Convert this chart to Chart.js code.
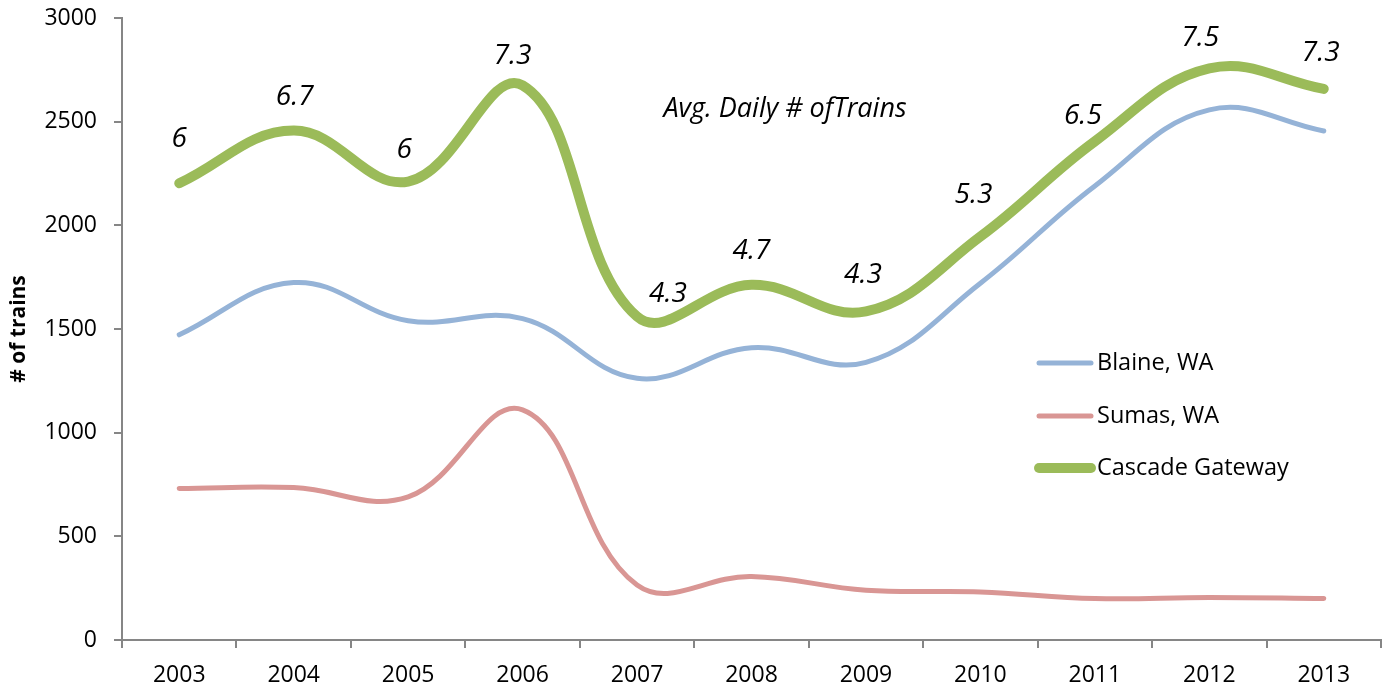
<!DOCTYPE html>
<html>
<head>
<meta charset="utf-8">
<script src="https://cdn.jsdelivr.net/npm/chart.js@4"></script>
<style>
body{margin:0;background:#fff;}
canvas{display:block;}
</style>
</head>
<body>
<canvas id="trainsChart" width="1390" height="689"></canvas>
<script>
// categories
const years=["2003","2004","2005","2006","2007","2008","2009","2010","2011","2012","2013"];

// series values (# of trains per year)
const blaine=[1472,1724,1540,1550,1262,1410,1339,1721,2190,2557,2455];
const sumas=[731,735,690,1110,265,306,240,232,200,205,200];
const cascade=[2203,2457,2211,2675,1560,1713,1585,1946,2405,2757,2658];

// avg daily trains shown above the Cascade Gateway line
const avgDaily=["6","6.7","6","7.3","4.3","4.7","4.3","5.3","6.5","7.5","7.3"];

// y axis ticks
const yTicks=[0,500,1000,1500,2000,2500,3000];

const FONT="'Open Sans', sans-serif";

// where each avg daily label sits relative to its point [dx, dy]
const labelShift=[[0,-44],[1,-34],[-4,-32],[-10,-29],[31,-23],[0,-34],[-3,-36],[-7,-41],[-12,-25],[-9,-30],[-3,-36]];

const extras={
id:"extras",
afterDatasetsDraw(chart){
const c=chart.ctx;
c.save();

// avg daily labels
const meta=chart.getDatasetMeta(2);
c.font="italic 28px "+FONT;
c.fillStyle="#000";
c.textAlign="center";
c.textBaseline="middle";
meta.data.forEach((pt,i)=>{
c.fillText(avgDaily[i],pt.x+labelShift[i][0],pt.y+labelShift[i][1]);
});

// note title
c.font="italic 27px "+FONT;
c.fillText("Avg. Daily # ofTrains",785,109);

// legend
const rows=[363,416,468];
c.textAlign="left";
c.font="23.5px "+FONT;
chart.data.datasets.forEach((ds,i)=>{
c.strokeStyle=ds.borderColor;
c.lineWidth=ds.borderWidth;
c.lineCap="round";
c.beginPath();
c.moveTo(1039,rows[i]);
c.lineTo(1091,rows[i]);
c.stroke();
c.fillStyle="#000";
c.fillText(ds.label,1097,rows[i]);
});

c.restore();
}
};

new Chart(document.getElementById("trainsChart"),{
type:"line",
data:{
labels:years,
datasets:[
{label:"Blaine, WA",data:blaine,borderColor:"#95B3D7",borderWidth:5},
{label:"Sumas, WA",data:sumas,borderColor:"#D99694",borderWidth:5},
{label:"Cascade Gateway",data:cascade,borderColor:"#9BBB59",borderWidth:10}
]
},
options:{
responsive:false,
animation:false,
layout:{padding:{top:18,right:9,bottom:0,left:0}},
elements:{
point:{radius:0,hoverRadius:0},
line:{tension:0.4,borderCapStyle:"round",borderJoinStyle:"round",fill:false}
},
plugins:{
legend:{display:false},
tooltip:{enabled:false}
},
scales:{
x:{
offset:true,
grid:{display:true,drawOnChartArea:false,offset:true,tickLength:8,color:"#868686",lineWidth:2},
border:{color:"#868686",width:2},
ticks:{color:"#000",font:{family:FONT,size:23},padding:14,maxRotation:0},
afterFit(s){s.height=49;s.paddingLeft=0;s.paddingRight=0;}
},
y:{
min:0,
max:3000,
afterBuildTicks(s){s.ticks=yTicks.map(v=>({value:v}));},
grid:{display:true,drawOnChartArea:false,tickLength:8,color:"#868686",lineWidth:2},
border:{color:"#868686",width:2},
ticks:{color:"#000",font:{family:FONT,size:23},padding:17,callback:v=>String(v)},
title:{display:true,text:"# of trains",color:"#000",font:{family:FONT,size:21,weight:"bold"},padding:{top:6,bottom:0}},
afterFit(s){s.width=122;s.paddingTop=0;s.paddingBottom=0;}
}
}
},
plugins:[extras]
});
</script>
</body>
</html>
